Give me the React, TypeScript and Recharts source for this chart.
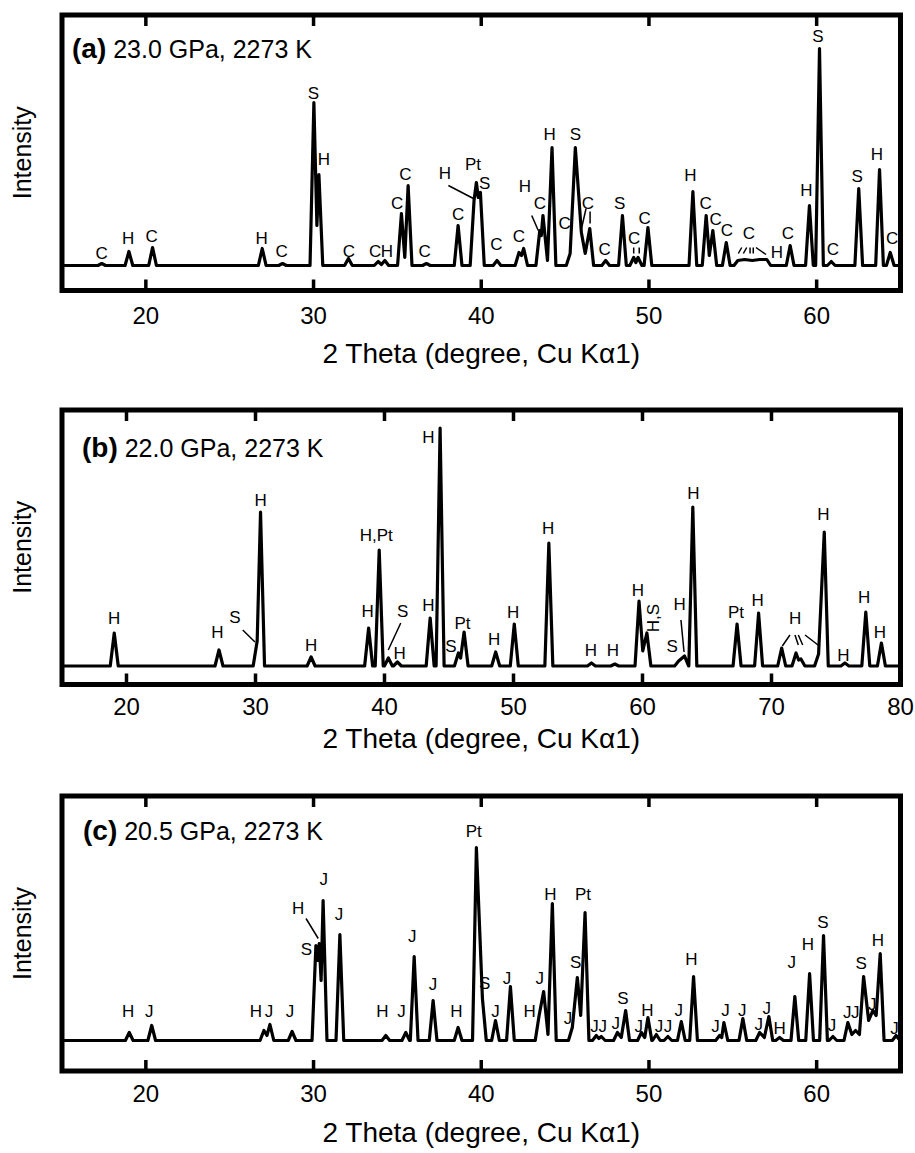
import React from 'react';
import { ComposedChart, Line, Scatter, XAxis, YAxis, ReferenceArea, ReferenceLine } from 'recharts';

const FONT = "'Liberation Sans', Arial, Helvetica, sans-serif";

type Pk = [number, number];
type Lb = [number, number, string, boolean?];
type Ld = [number, number, number, number];

// ---- panel (a) 23.0 GPa ----
const ticksA = [20, 30, 40, 50, 60];
const peaksA: Pk[] = [
  [17.37, 2], [18.99, 14], [20.4, 18], [26.94, 17], [28.15, 2],
  [30.02, 163], [30.2, 40], [30.32, 91], [32.08, 7], [33.85, 4], [34.05, 1], [34.25, 5],
  [35.24, 52], [35.44, 8], [35.64, 80], [36.73, 2], [38.62, 40],
  [39.57, 65], [39.71, 83], [39.82, 68], [39.95, 73], [40.94, 5],
  [42.25, 13], [42.4, 10], [42.53, 17], [43.49, 35], [43.58, 30], [43.68, 50], [43.95, 5], [44.22, 118],
  [45.3, 12], [45.61, 118], [45.97, 33], [46.2, 12], [46.47, 37], [47.42, 5], [48.42, 50],
  [49.09, 8], [49.22, 3], [49.35, 8], [49.94, 38], [52.62, 74], [53.41, 50], [53.6, 10], [53.81, 35],
  [54.61, 23], [55.3, 5], [55.7, 6], [56.16, 5], [56.6, 6], [57.03, 6], [58.42, 20],
  [59.57, 60], [60.17, 217], [60.87, 4], [62.51, 77], [63.75, 96], [64.39, 13],
];
const labelsA: Lb[] = [
  [17.37, 13, 'C'], [18.95, 28, 'H'], [20.35, 30, 'C'], [26.9, 28, 'H'], [28.1, 15, 'C'],
  [29.99, 173, 'S'], [30.62, 107, 'H'], [32.1, 15, 'C'], [33.67, 15, 'C'], [34.38, 15, 'H'],
  [34.98, 63, 'C'], [35.48, 92, 'C'], [36.63, 15, 'C'], [38.62, 52, 'C'], [37.83, 93, 'H'],
  [39.51, 102, 'Pt'], [40.2, 83, 'S'], [40.9, 22, 'C'], [42.25, 30, 'C'], [42.6, 80, 'H'],
  [43.49, 63, 'C'], [44.08, 132, 'H'], [44.98, 43, 'C'], [45.61, 132, 'S'], [46.36, 63, 'C'],
  [47.36, 17, 'C'], [48.25, 63, 'S'], [49.11, 28, 'C'], [49.74, 48, 'C'], [52.47, 91, 'H'],
  [53.38, 63, 'C'], [53.98, 47, 'C'], [54.65, 36, 'C'], [55.96, 33, 'C'], [57.63, 14, 'H'],
  [58.29, 33, 'C'], [59.39, 76, 'H'], [60.07, 230, 'S'], [60.97, 17, 'C'], [62.42, 90, 'S'],
  [63.59, 112, 'H'], [64.5, 28, 'C'],
];
const leadersA: Ld[] = [
  [38.04, 80, 39.53, 67], [43.01, 50, 43.4, 35], [46.25, 57, 45.99, 38], [46.49, 54, 46.49, 42],
  [49.09, 18, 49.09, 12], [49.42, 18, 49.42, 12],
  [55.53, 18, 55.33, 12], [55.83, 18, 55.63, 12], [56.03, 18, 56.03, 12], [56.22, 18, 56.22, 12],
  [56.38, 18, 56.98, 11],
];

// ---- panel (b) 22.0 GPa ----
const ticksB = [20, 30, 40, 50, 60, 70, 80];
const peaksB: Pk[] = [
  [19.05, 33], [27.17, 16], [30.13, 25], [30.39, 154], [34.31, 9], [38.77, 38], [39.59, 116],
  [40.3, 8], [41.0, 4], [43.54, 48], [44.31, 238], [45.73, 13], [45.9, 8], [46.17, 34],
  [48.62, 14], [50.06, 42], [52.74, 123], [56.04, 3], [57.85, 2], [59.73, 65], [60.02, 15],
  [60.34, 33], [62.8, 5], [63.26, 10], [63.9, 159], [67.33, 42], [69.0, 53], [70.79, 18],
  [71.9, 13], [72.1, 6], [72.28, 7], [73.65, 12], [74.09, 134], [75.69, 3], [77.31, 54], [78.52, 23],
];
const labelsB: Lb[] = [
  [19.05, 48, 'H'], [27.04, 34, 'H'], [28.4, 49, 'S'], [30.39, 166, 'H'], [34.31, 21, 'H'],
  [38.69, 55, 'H'], [39.36, 131, 'H,Pt'], [41.4, 55, 'S'], [41.17, 13, 'H'], [43.41, 61, 'H'],
  [43.41, 229, 'H'], [45.14, 20, 'S'], [46.04, 43, 'Pt'], [48.49, 27, 'H'], [49.98, 54, 'H'],
  [52.69, 138, 'H'], [55.99, 16, 'H'], [57.71, 16, 'H'], [59.65, 76, 'H'], [60.81, 48, 'H,S', true],
  [62.3, 20, 'S'], [62.87, 62, 'H'], [63.94, 173, 'H'], [67.25, 54, 'Pt'], [68.93, 66, 'H'],
  [71.84, 48, 'H'], [74.02, 152, 'H'], [75.58, 11, 'H'], [77.18, 69, 'H'], [78.41, 34, 'H'],
];
const leadersB: Ld[] = [
  [29.01, 36, 29.96, 24], [41.26, 43, 40.29, 16], [62.98, 46, 63.22, 14],
  [71.43, 31, 70.84, 20], [71.82, 31, 72.08, 21], [72.08, 31, 72.42, 21], [72.6, 31, 73.71, 20],
];

// ---- panel (c) 20.5 GPa ----
const ticksC = [20, 30, 40, 50, 60];
const peaksC: Pk[] = [
  [19.01, 8], [20.35, 15], [27.04, 10], [27.22, 5], [27.4, 16], [28.72, 9],
  [30.14, 95], [30.24, 80], [30.34, 97], [30.45, 60], [30.57, 140], [31.57, 106],
  [34.31, 5], [35.5, 8], [36.0, 84], [37.13, 40], [38.62, 13], [39.71, 193], [40.07, 42],
  [40.85, 20], [41.74, 54], [43.45, 25], [43.72, 49], [43.98, 6], [44.24, 137],
  [45.43, 13], [45.73, 63], [45.93, 25], [46.19, 128], [46.86, 5], [47.01, 2], [47.16, 4],
  [48.12, 8], [48.35, 3], [48.61, 30], [49.55, 8], [49.75, 3], [49.94, 23], [50.44, 6], [51.13, 4],
  [51.93, 19], [52.66, 64], [54.21, 5], [54.34, 3], [54.47, 18], [55.6, 22], [56.6, 8], [56.88, 3],
  [57.15, 24], [57.79, 3], [58.7, 44], [59.58, 67], [60.41, 105], [60.97, 4], [61.86, 18],
  [62.1, 6], [62.32, 10], [62.55, 6], [62.8, 64], [63.1, 20], [63.35, 30], [63.55, 25], [63.79, 87],
  [64.74, 5],
];
const labelsC: Lb[] = [
  [18.95, 30, 'H'], [20.2, 30, 'J'], [26.56, 30, 'H'], [27.35, 30, 'J'], [28.59, 30, 'J'],
  [29.08, 133, 'H'], [29.58, 92, 'S'], [30.61, 162, 'J'], [31.52, 127, 'J'], [34.11, 30, 'H'],
  [35.24, 30, 'J'], [35.88, 105, 'J'], [37.13, 57, 'J'], [38.52, 30, 'H'], [39.55, 210, 'Pt'],
  [40.21, 58, 'S'], [40.85, 30, 'J'], [41.54, 63, 'J'], [42.89, 30, 'H'], [43.49, 63, 'J'],
  [44.12, 147, 'H'], [46.07, 147, 'Pt'], [45.17, 23, 'J'], [45.63, 79, 'S'], [46.75, 15, 'J'],
  [47.25, 15, 'J'], [48.02, 18, 'J'], [48.45, 43, 'S'], [49.39, 15, 'J'], [49.9, 31, 'H'],
  [50.6, 15, 'J'], [51.13, 15, 'J'], [51.77, 31, 'J'], [52.53, 82, 'H'], [53.97, 15, 'J'],
  [54.57, 31, 'J'], [55.56, 31, 'J'], [56.55, 17, 'J'], [57.03, 33, 'J'], [57.79, 13, 'H'],
  [58.52, 79, 'J'], [59.48, 97, 'H'], [60.37, 119, 'S'], [60.91, 16, 'J'], [61.82, 29, 'J'],
  [62.3, 29, 'J'], [62.66, 78, 'S'], [63.31, 37, 'J'], [63.65, 101, 'H'], [64.64, 13, 'J'],
];
const leadersC: Ld[] = [[29.55, 122, 30.28, 102]];

// trace = read peak/valley points joined, dropping to baseline where neighbours are far apart
function buildTrace(points: Pk[], lo: number, hi: number, w: number) {
  const out = [{ x: lo, y: 0 }];
  points.forEach(([x, h], i) => {
    const prev = points[i - 1];
    const next = points[i + 1];
    if (!prev || x - prev[0] > 2 * w) out.push({ x: x - w, y: 0 });
    out.push({ x, y: h });
    if (!next || next[0] - x > 2 * w) out.push({ x: x + w, y: 0 });
  });
  out.push({ x: hi, y: 0 });
  return out;
}

const MT = 6;
const TICK = 11;

const Mark = (p: any) => {
  const { cx, cy, payload } = p;
  if (cx == null || cy == null) return <g />;
  if (payload.kind === 'tick') {
    const dir = payload.top ? 1 : -1;
    return <line x1={cx} x2={cx} y1={cy} y2={cy + dir * TICK} stroke="#000" strokeWidth={3.5} />;
  }
  return (
    <text
      x={cx}
      y={cy}
      dy="0.36em"
      textAnchor="middle"
      fontSize={17}
      fontFamily={FONT}
      fill="#000"
      transform={payload.rot ? `rotate(-90 ${cx} ${cy})` : undefined}
    >
      {payload.t}
    </text>
  );
};

function Panel(props: {
  frameTop: number; frameBottom: number; lo: number; hi: number; yMin: number; yMax: number;
  ticks: number[]; peaks: Pk[]; labels: Lb[]; leaders: Ld[]; w: number; tickOff: number; titleOff: number;
  bottomSpace: number;
}) {
  const { frameTop, frameBottom, lo, hi, yMin, yMax, ticks, peaks, labels, leaders, w, tickOff, titleOff, bottomSpace } = props;
  const plotH = frameBottom - frameTop;
  const xh = titleOff + bottomSpace;
  const height = MT + plotH + xh;
  const trace = buildTrace(peaks, lo, hi, w);
  const marks = [
    ...ticks.map((t) => ({ x: t, y: yMin, kind: 'tick', top: false })),
    ...ticks.map((t) => ({ x: t, y: yMax, kind: 'tick', top: true })),
    ...labels.map(([x, y, t, rot]) => ({ x, y, t, kind: 'label', rot: !!rot })),
  ];
  return (
    <div style={{ position: 'absolute', left: 0, top: frameTop - 8 - MT, width: 907, height }}>
      <ComposedChart width={907} height={height} margin={{ top: MT, right: 14.5, bottom: 0, left: 0 }}>
        {/* mirrored zero-height axes: inward tick marks on the bottom and top of the frame */}
        <XAxis
          xAxisId="mb"
          orientation="bottom"
          mirror
          type="number"
          dataKey="x"
          domain={[lo, hi]}
          ticks={ticks}
          interval={0}
          allowDataOverflow
          height={0}
          axisLine={false}
          tickSize={TICK}
          tickLine={{ stroke: '#000', strokeWidth: 3.5 }}
          tickFormatter={() => ''}
        />
        <XAxis
          dataKey="x"
          type="number"
          domain={[lo, hi]}
          ticks={ticks}
          interval={0}
          allowDataOverflow
          height={xh}
          axisLine={false}
          tickLine={false}
          tickSize={0}
          tickMargin={tickOff - 17}
          tick={{ fill: '#000', fontSize: 24, fontFamily: FONT }}
          label={{ value: '2 Theta (degree, Cu Kα1)', position: 'insideBottom', offset: bottomSpace, fill: '#000', fontSize: 28, fontFamily: FONT }}
        />
        <XAxis
          xAxisId="mt"
          orientation="top"
          mirror
          type="number"
          dataKey="x"
          domain={[lo, hi]}
          ticks={ticks}
          interval={0}
          allowDataOverflow
          height={0}
          axisLine={false}
          tickSize={TICK}
          tickLine={{ stroke: '#000', strokeWidth: 3.5 }}
          tickFormatter={() => ''}
        />
        <YAxis
          type="number"
          domain={[yMin, yMax]}
          allowDataOverflow
          width={54}
          tick={false}
          tickLine={false}
          axisLine={false}
          label={{ value: 'Intensity', angle: -90, position: 'insideLeft', offset: 14, style: { textAnchor: 'middle' }, fill: '#000', fontSize: 25, fontFamily: FONT }}
        />
        <ReferenceArea x1={lo} x2={hi} y1={yMin} y2={yMax} fill="none" fillOpacity={0} stroke="#000" strokeWidth={5} ifOverflow="visible" />
        {leaders.map(([x1, y1, x2, y2], i) => (
          <ReferenceLine key={'ld' + i} segment={[{ x: x1, y: y1 }, { x: x2, y: y2 }]} stroke="#000" strokeWidth={1.5} ifOverflow="visible" />
        ))}
        <Line data={trace} dataKey="y" type="linear" stroke="#000" strokeWidth={3.2} strokeLinejoin="round" dot={false} activeDot={false} isAnimationActive={false} />
        <Scatter data={marks} dataKey="y" shape={Mark} isAnimationActive={false} />
      </ComposedChart>
    </div>
  );
}

const panelTitles: [string, string, number, number][] = [
  ['(a)', ' 23.0 GPa, 2273 K', 72, 58],
  ['(b)', ' 22.0 GPa, 2273 K', 82, 457],
  ['(c)', ' 20.5 GPa, 2273 K', 83, 840],
];

export default function App() {
  return (
    <div style={{ padding: 8, width: 907, height: 1145 }}>
      <style>{'html, body { overflow: hidden; } body { margin: 0; } #root { overflow: visible !important; }'}</style>
      <div style={{ position: 'relative', width: 907, height: 1145, background: '#fff' }}>
        <Panel frameTop={14.5} frameBottom={290} lo={15} hi={65} yMin={-25} yMax={250.5} ticks={ticksA}
          peaks={peaksA} labels={labelsA} leaders={leadersA} w={0.23} tickOff={33} titleOff={72} bottomSpace={10} />
        <Panel frameTop={410} frameBottom={684.5} lo={15} hi={80} yMin={-18.5} yMax={256} ticks={ticksB}
          peaks={peaksB} labels={labelsB} leaders={leadersB} w={0.31} tickOff={30} titleOff={63} bottomSpace={10} />
        <Panel frameTop={795.5} frameBottom={1070.5} lo={15} hi={65} yMin={-30.5} yMax={244.5} ticks={ticksC}
          peaks={peaksC} labels={labelsC} leaders={leadersC} w={0.23} tickOff={31} titleOff={70.5} bottomSpace={11} />
        <svg width={907} height={1145} style={{ position: 'absolute', left: 0, top: 0, pointerEvents: 'none' }}>
          {panelTitles.map(([a, b, x, y]) => (
            <text key={a} x={x - 8} y={y - 8} fontFamily={FONT} fill="#000">
              <tspan fontWeight="bold" fontSize={28}>{a}</tspan>
              <tspan fontSize={25}>{b}</tspan>
            </text>
          ))}
        </svg>
      </div>
    </div>
  );
}
